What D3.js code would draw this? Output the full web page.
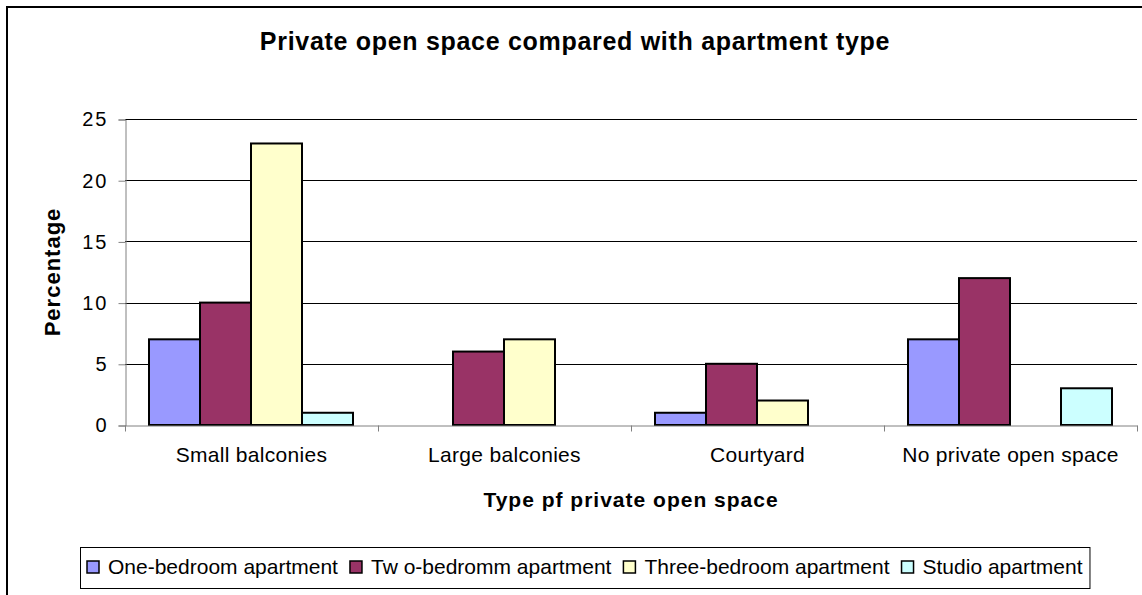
<!DOCTYPE html>
<html>
<head>
<meta charset="utf-8">
<script src="https://cdn.jsdelivr.net/npm/d3@7"></script>
<style>
  body { margin: 0; background: #fff; }
  text { font-family: "Liberation Sans", Arial, sans-serif; fill: #000; }
</style>
</head>
<body>
<script>
// chart data
const categories = ["Small balconies", "Large balconies", "Courtyard", "No private open space"];
const seriesNames = ["One-bedroom apartment", "Tw o-bedromm apartment", "Three-bedroom apartment", "Studio apartment"];
const seriesColors = ["#9999FF", "#993366", "#FFFFCC", "#CCFFFF"];
const oneBedroom = [7, 0, 1, 7];
const twoBedroom = [10, 6, 5, 12];
const threeBedroom = [23, 7, 2, 0];
const studio = [1, 0, 0, 3];
const yTicks = [0, 5, 10, 15, 20, 25];

const seriesValues = [oneBedroom, twoBedroom, threeBedroom, studio];

const width = 1142, height = 595;
const plot = { left: 125, right: 1137, top: 119, bottom: 425 };

const svg = d3.select("body")
  .append("svg")
  .attr("width", width)
  .attr("height", height);

// outer frame (right and bottom edges fall outside the picture)
svg.append("rect")
  .attr("x", 7).attr("y", 7)
  .attr("width", width + 20).attr("height", height + 20)
  .attr("fill", "#fff")
  .attr("stroke", "#000")
  .attr("stroke-width", 2);

let x0 = d3.scaleBand(categories, [plot.left, plot.right]).padding(0);
let x1 = d3.scaleBand(d3.range(seriesNames.length), [24, x0.bandwidth() - 25]).padding(0);
let yScale = d3.scaleLinear([0, 25], [plot.bottom, plot.top]);

// gridlines
svg.append("g")
  .selectAll("line")
  .data(yTicks.filter(d => d > 0))
  .join("line")
  .attr("x1", plot.left).attr("x2", plot.right)
  .attr("y1", d => Math.round(yScale(d)) + 0.5)
  .attr("y2", d => Math.round(yScale(d)) + 0.5)
  .attr("stroke", "#000")
  .attr("stroke-width", 1);

// y axis
const yAxis = d3.axisLeft(yScale).tickValues(yTicks).tickSize(7).tickPadding(10);
const gy = svg.append("g")
  .attr("transform", `translate(${plot.left + 0.5},0.5)`)
  .call(yAxis);
gy.select(".domain").attr("stroke", "#808080");
gy.selectAll(".tick line").attr("stroke", "#808080");
gy.selectAll(".tick text")
  .style("font-size", "20px")
  .style("letter-spacing", "2px")
  .style("font-family", "Liberation Sans, Arial, sans-serif")
  .attr("fill", "#000");

// bars
const groups = svg.append("g")
  .selectAll("g")
  .data(categories)
  .join("g")
  .attr("transform", d => `translate(${x0(d)},0)`);

groups.selectAll("rect")
  .data((d, ci) => seriesValues.map((vals, si) => ({ si: si, v: vals[ci] })).filter(d => d.v > 0))
  .join("rect")
  .attr("x", d => x1(d.si))
  .attr("y", d => yScale(d.v))
  .attr("width", x1.bandwidth())
  .attr("height", d => yScale(0) - yScale(d.v))
  .attr("fill", d => seriesColors[d.si])
  .attr("stroke", "#000")
  .attr("stroke-width", 2);

// x axis
const xAxis = d3.axisBottom(x0).tickSize(0).tickPadding(22);
const gx = svg.append("g")
  .attr("transform", `translate(0,${plot.bottom + 0.5})`)
  .call(xAxis);
gx.select(".domain").attr("stroke", "#808080");
gx.selectAll(".tick text")
  .style("font-size", "21px")
  .style("letter-spacing", "0.3px")
  .style("font-family", "Liberation Sans, Arial, sans-serif")
  .attr("fill", "#000");
// category boundary ticks
gx.append("g")
  .selectAll("line")
  .data(categories.concat(["end"]))
  .join("line")
  .attr("x1", (d, i) => Math.round(plot.left + i * x0.bandwidth()) + 0.5)
  .attr("x2", (d, i) => Math.round(plot.left + i * x0.bandwidth()) + 0.5)
  .attr("y1", 0).attr("y2", 6)
  .attr("stroke", "#808080");

// titles
svg.append("text")
  .attr("x", 575).attr("y", 50)
  .attr("text-anchor", "middle")
  .style("font-size", "25px")
  .style("letter-spacing", "0.7px")
  .style("font-weight", "bold")
  .text("Private open space compared with apartment type");

svg.append("text")
  .attr("transform", `translate(60,${(plot.top + plot.bottom) / 2}) rotate(-90)`)
  .attr("text-anchor", "middle")
  .style("font-size", "22px")
  .style("letter-spacing", "1px")
  .style("font-weight", "bold")
  .text("Percentage");

svg.append("text")
  .attr("x", (plot.left + plot.right) / 2).attr("y", 507)
  .attr("text-anchor", "middle")
  .style("font-size", "21px")
  .style("letter-spacing", "1px")
  .style("font-weight", "bold")
  .text("Type pf private open space");

// legend
const legend = svg.append("g");
const legendBox = legend.append("rect")
  .attr("fill", "#fff")
  .attr("stroke", "#000")
  .attr("stroke-width", 1);

const legendLeft = 80;
let lx = legendLeft + 7;
const ly = 567;
seriesNames.forEach((name, i) => {
  legend.append("rect")
    .attr("x", lx).attr("y", ly - 6)
    .attr("width", 12).attr("height", 12)
    .attr("fill", seriesColors[i])
    .attr("stroke", "#000")
    .attr("stroke-width", 1.5);
  const t = legend.append("text")
    .attr("x", lx + 21).attr("y", ly + 7)
    .style("font-size", "21px")
    .text(name);
  lx += 21 + t.node().getComputedTextLength() + 12;
});
legendBox
  .attr("x", legendLeft + 0.5).attr("y", 547.5)
  .attr("width", lx - legendLeft - 5).attr("height", 41);
</script>
</body>
</html>
